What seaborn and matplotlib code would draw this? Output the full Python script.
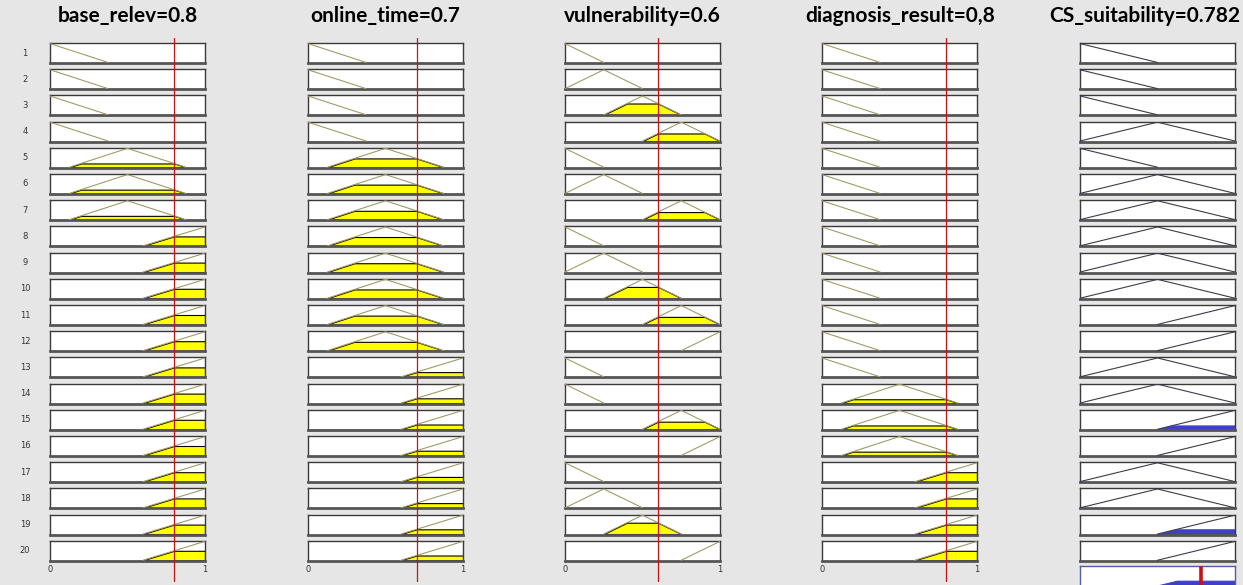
import numpy as np
import pandas as pd
import matplotlib
matplotlib.use("Agg")
import matplotlib.pyplot as plt
import seaborn as sns

# ---------------- data ----------------
titles = ["base_relev=0.8", "online_time=0.7", "vulnerability=0.6",
          "diagnosis_result=0,8", "CS_suitability=0.782"]
input_values = [0.8, 0.7, 0.6, 0.8]
output_value = 0.782

# membership function breakpoints (x, y) on [0, 1]
mf_three = {
    "low":  ([0, 0.375, 1], [1, 0, 0]),
    "mid":  ([0, 0.125, 0.5, 0.875, 1], [0, 0, 1, 0, 0]),
    "high": ([0, 0.6, 1], [0, 0, 1]),
}
mf_vuln = {
    "vl":   ([0, 0.25, 1], [1, 0, 0]),
    "low":  ([0, 0.25, 0.5, 1], [0, 1, 0, 0]),
    "med":  ([0, 0.25, 0.5, 0.75, 1], [0, 0, 1, 0, 0]),
    "high": ([0, 0.5, 0.75, 1], [0, 0, 1, 0]),
    "vh":   ([0, 0.75, 1], [0, 0, 1]),
}
mf_out = {
    "low":  ([0, 0.5, 1], [1, 0, 0]),
    "med":  ([0, 0.5, 1], [0, 1, 0]),
    "high": ([0, 0.5, 1], [0, 0, 1]),
}

base_rule = ["low", "low", "low", "low", "mid", "mid", "mid", "high", "high", "high",
             "high", "high", "high", "high", "high", "high", "high", "high", "high", "high"]
online_rule = ["low", "low", "low", "low", "mid", "mid", "mid", "mid", "mid", "mid",
               "mid", "mid", "high", "high", "high", "high", "high", "high", "high", "high"]
vuln_rule = ["vl", "low", "med", "high", "vl", "low", "high", "vl", "low", "med",
             "high", "vh", "vl", "vl", "high", "vh", "vl", "low", "med", "vh"]
diag_rule = ["low", "low", "low", "low", "low", "low", "low", "low", "low", "low",
             "low", "low", "low", "mid", "mid", "mid", "high", "high", "high", "high"]
out_rule = ["low", "low", "low", "med", "low", "med", "med", "med", "med", "med",
            "high", "high", "med", "med", "high", "high", "med", "med", "high", "high"]

rule_ids = list(range(1, 21))

# ---------------- style ----------------
sns.set_theme(style="white")
plt.rcParams["font.family"] = ["DejaVu Sans"]

BG = "#e6e6e6"
IN_LINE = "#a09c68"
OUT_LINE = "#3c3c4c"
YELLOW = "#ffff00"
BLUE = "#3f3fc8"
RED = "#cc1010"

W, H = 1243, 585
fig = plt.figure(figsize=(W / 100, H / 100), dpi=100)
fig.patch.set_facecolor(BG)

col_left = [50, 308, 565, 822, 1080]
col_w = 155
row_top0 = 43
row_pitch = 26.2
row_h = 20
title_x = [127.5, 385.5, 642.5, 900, 1145]

grid = np.linspace(0, 1, 801)


def px_axes(x, y_top, w, h):
    return fig.add_axes([x / W, 1 - (y_top + h) / H, w / W, h / H])


def style_box(ax, edge="#3a3a3a"):
    ax.set_facecolor("white")
    ax.set_xlim(0, 1)
    ax.set_ylim(-0.03, 1.03)
    ax.set_xticks([])
    ax.set_yticks([])
    for s in ["top", "left", "right"]:
        ax.spines[s].set_color(edge)
        ax.spines[s].set_linewidth(1.0)
    ax.spines["bottom"].set_color("#555555")
    ax.spines["bottom"].set_linewidth(2.0)


def mf_eval(mfs, name, x):
    xs, ys = mfs[name]
    return np.interp(x, xs, ys)


def mf_support(mfs, name):
    """breakpoints of the non-zero part of a membership function"""
    xs, ys = mfs[name]
    keep = []
    for i in range(len(xs)):
        left = ys[i - 1] if i > 0 else 0
        right = ys[i + 1] if i < len(xs) - 1 else 0
        if ys[i] > 0 or left > 0 or right > 0:
            keep.append(i)
    return pd.DataFrame({"x": [xs[i] for i in keep], "mu": [ys[i] for i in keep]})


in_sets = [(mf_three, base_rule), (mf_three, online_rule),
           (mf_vuln, vuln_rule), (mf_three, diag_rule)]

degrees = np.array([[mf_eval(mfs, rules[r], input_values[c]) for c, (mfs, rules) in enumerate(in_sets)]
                    for r in range(20)])
firing = degrees.min(axis=1)

aggregate = np.zeros_like(grid)

for r in range(20):
    top = row_top0 + r * row_pitch
    for c in range(4):
        mfs, rules = in_sets[c]
        ax = px_axes(col_left[c], top, col_w, row_h)
        style_box(ax)
        y = mf_eval(mfs, rules[r], grid)
        d = degrees[r, c]
        if d > 0:
            ax.fill_between(grid, 0, np.minimum(y, d), where=y > 0, facecolor=YELLOW,
                            edgecolor="black", linewidth=0.8, zorder=2)
        sns.lineplot(data=mf_support(mfs, rules[r]), x="x", y="mu", ax=ax,
                     color=IN_LINE, lw=0.8, zorder=3, sort=False)
        ax.set_xlabel("")
        ax.set_ylabel("")
        if c == 0:
            ax.text(-25 / col_w, 0.5, str(rule_ids[r]), transform=ax.transAxes,
                    ha="center", va="center", fontsize=6, color="#333333")
        if r == 19:
            ax.set_xticks([0, 1])
            ax.set_xticklabels(["0", "1"])
            ax.tick_params(axis="x", length=0, pad=3, labelsize=6, colors="#333333")
    # output column
    ax = px_axes(col_left[4], top, col_w, row_h)
    style_box(ax)
    y = mf_eval(mf_out, out_rule[r], grid)
    clip = np.minimum(y, firing[r])
    aggregate = np.maximum(aggregate, clip)
    if firing[r] > 0:
        ax.fill_between(grid, 0, clip, where=y > 0, facecolor=BLUE, edgecolor=BLUE,
                        linewidth=0.8, zorder=2)
    sns.lineplot(data=mf_support(mf_out, out_rule[r]), x="x", y="mu", ax=ax,
                 color=OUT_LINE, lw=0.8, zorder=3, sort=False)
    ax.set_xlabel("")
    ax.set_ylabel("")

# aggregated output box (partly below the figure edge, as in the viewer)
ax = px_axes(col_left[4], 566, col_w, row_h)
style_box(ax)
for s in ["top", "left", "right", "bottom"]:
    ax.spines[s].set_color("#5a5aa8")
ax.fill_between(grid, 0, aggregate, where=aggregate > 0, facecolor=BLUE, edgecolor=BLUE,
                linewidth=0.8, zorder=2)
ax.axvline(output_value, ymin=0, ymax=1, color=RED, lw=2.6, zorder=4)

# red input-value lines spanning each input column
for c in range(4):
    ov = px_axes(col_left[c], 38, col_w, 582 - 38)
    ov.set_xlim(0, 1)
    ov.set_ylim(0, 1)
    ov.axis("off")
    ov.patch.set_alpha(0)
    ov.set_zorder(10)
    ov.axvline(input_values[c], color=RED, lw=0.9)

# titles
for c in range(5):
    fig.text(title_x[c] / W, 1 - 16 / H, titles[c], ha="center", va="center",
             fontsize=15, fontweight="bold", family=["Lato", "DejaVu Sans"], color="black")

fig.savefig("out.png", dpi=100, facecolor=BG)
